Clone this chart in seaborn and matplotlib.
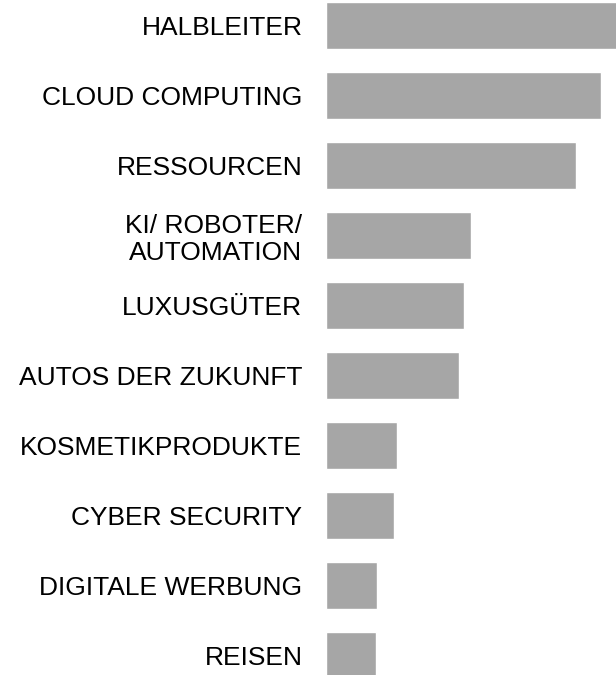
import pandas as pd
import seaborn as sns
import matplotlib.pyplot as plt

# Sektoren und Balkenlaengen
categories = [
    "HALBLEITER",
    "CLOUD COMPUTING",
    "RESSOURCEN",
    "KI/ ROBOTER/\nAUTOMATION",
    "LUXUSGÜTER",
    "AUTOS DER ZUKUNFT",
    "KOSMETIKPRODUKTE",
    "CYBER SECURITY",
    "DIGITALE WERBUNG",
    "REISEN",
]
values = [292, 275, 250, 145, 138, 133, 71, 68, 51, 50]

df = pd.DataFrame({"sektor": categories, "wert": values})

sns.set_style("white")
plt.rcParams["font.family"] = ["Liberation Sans", "DejaVu Sans"]

fig = plt.figure(figsize=(6.16, 6.75), dpi=100)
W, H = 616, 675
# axes in pixel units -> figure fractions
ax = fig.add_axes([326 / W, -15.5 / H, 290 / W, 700 / H])

sns.barplot(data=df, x="wert", y="sektor", color="#a6a6a6",
            saturation=1, width=0.68, ax=ax)

ax.set_xlim(0, 290)
ax.set_ylim(9.5, -0.5)
ax.set_xlabel("")
ax.set_ylabel("")
ax.set_xticks([])
ax.tick_params(axis="y", length=0, pad=17)
for lbl in ax.get_yticklabels():
    lbl.set_fontsize(19)
    lbl.set_color("black")
    lbl.set_linespacing(1.15)
sns.despine(ax=ax, left=True, bottom=True)

fig.savefig("out.png", dpi=100)
